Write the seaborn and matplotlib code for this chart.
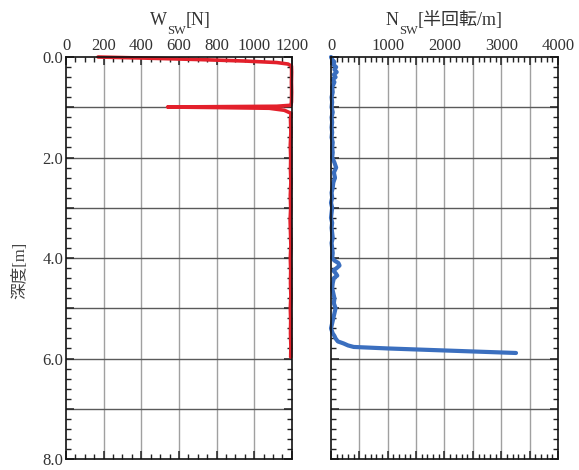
import matplotlib
matplotlib.use("Agg")
import matplotlib.pyplot as plt
import seaborn as sns
import pandas as pd
from matplotlib.ticker import MultipleLocator, FuncFormatter

# Swedish weight sounding: load W_sw [N] and half-turns N_sw per metre
w_depth = [0.00, 0.02, 0.05, 0.08, 0.11, 0.14, 0.18, 0.30, 0.50, 0.70, 0.90,
           0.96, 0.98, 0.995, 1.005, 1.02, 1.06, 1.12, 1.25, 1.50, 1.75, 2.00,
           2.25, 2.50, 2.75, 3.00, 3.25, 3.50, 3.75, 4.00, 4.25, 4.50, 4.75,
           5.00, 5.25, 5.50, 5.75, 5.97]
w_load = [170, 400, 700, 950, 1120, 1180, 1198, 1199, 1198, 1199, 1198,
          1195, 1120, 540, 780, 1080, 1160, 1196, 1193, 1195, 1192, 1194,
          1193, 1195, 1192, 1194, 1191, 1193, 1195, 1192, 1194, 1193, 1195,
          1192, 1194, 1193, 1195, 1194]

n_depth = [0.00, 0.05, 0.10, 0.15, 0.20, 0.25, 0.30, 0.35, 0.40, 0.45, 0.50,
           0.60, 0.70, 0.80, 0.90, 1.00, 1.10, 1.20, 1.30, 1.40, 1.50, 1.60,
           1.70, 1.80, 1.90, 2.00, 2.10, 2.20, 2.30, 2.40, 2.50, 2.60, 2.70,
           2.80, 2.90, 3.00, 3.10, 3.20, 3.30, 3.40, 3.50, 3.60, 3.70, 3.80,
           3.90, 4.00, 4.05, 4.10, 4.15, 4.20, 4.25, 4.30, 4.35, 4.40, 4.50,
           4.60, 4.70, 4.80, 4.90, 5.00, 5.10, 5.20, 5.30, 5.40, 5.50, 5.55,
           5.60, 5.66, 5.70, 5.74, 5.77, 5.80, 5.82, 5.86, 5.89]
n_turns = [0, 20, 60, 40, 90, 60, 100, 50, 80, 30, 60,
           20, 30, 10, 20, 10, 30, 10, 20, 10, 20, 10,
           30, 20, 30, 20, 60, 90, 50, 70, 40, 30, 10,
           20, 0, 20, 10, 0, 20, 10, 20, 30, 10, 20,
           30, 20, 60, 130, 150, 100, 40, 80, 110, 50, 30,
           20, 40, 60, 50, 80, 60, 40, 20, 0, 30, 60,
           80, 120, 220, 300, 400, 1000, 1500, 2500, 3260]

w_ticks = [0, 200, 400, 600, 800, 1000, 1200]
n_ticks = [0, 1000, 2000, 3000, 4000]
depth_labels = [0.0, 2.0, 4.0, 6.0, 8.0]

sns.set_theme(style="ticks")
plt.rcParams["font.family"] = ["Liberation Serif", "Noto Sans CJK JP"]

fig = plt.figure(figsize=(5.79, 4.70), dpi=100)
ax1 = fig.add_axes([0.114, 0.0234, 0.390, 0.8553])
ax2 = fig.add_axes([0.5717, 0.0234, 0.392, 0.8553])

df_w = pd.DataFrame({"depth": w_depth, "load": w_load})
df_n = pd.DataFrame({"depth": n_depth, "turns": n_turns})

sns.lineplot(data=df_w, x="load", y="depth", sort=False, estimator=None,
             orient="y", color="#e3202b", linewidth=2.6, ax=ax1, clip_on=False)
sns.lineplot(data=df_n, x="turns", y="depth", sort=False, estimator=None,
             orient="y", color="#3b6fbf", linewidth=3.0, ax=ax2, clip_on=False)


def style_axis(ax, xmax, xgrid, xminor, labels):
    ax.set_xlim(0, xmax)
    ax.set_ylim(8, 0)
    ax.xaxis.set_major_locator(MultipleLocator(xgrid))
    ax.xaxis.set_minor_locator(MultipleLocator(xminor))
    ax.yaxis.set_major_locator(MultipleLocator(1.0))
    ax.yaxis.set_minor_locator(MultipleLocator(0.2))
    ax.xaxis.set_major_formatter(
        FuncFormatter(lambda v, p: f"{int(round(v))}" if round(v) in labels else ""))
    ax.yaxis.set_major_formatter(
        FuncFormatter(lambda v, p: f"{v:.1f}" if round(v, 1) in depth_labels else ""))
    ax.xaxis.tick_top()
    ax.tick_params(which="both", direction="in", top=True, bottom=True,
                   left=True, right=True, labeltop=True, labelbottom=False,
                   colors="#222", labelcolor="#333", labelsize=12, pad=2)
    ax.tick_params(which="major", length=6, width=1.1)
    ax.tick_params(which="minor", length=3.5, width=1.0)
    ax.grid(False)
    for v in range(xgrid, xmax, xgrid):
        ax.axvline(v, color="#a0a0a0", linewidth=1.0, zorder=0)
    for d in range(1, 8):
        ax.axhline(d, color="#5a5a5a", linewidth=1.0, zorder=0)
    for s in ax.spines.values():
        s.set_color("#111")
        s.set_linewidth(1.2)
    ax.set_xlabel("")
    ax.set_ylabel("")


style_axis(ax1, 1200, 200, 50, w_ticks)
style_axis(ax2, 4000, 500, 100, n_ticks)
ax2.tick_params(labelleft=False)

ax1.set_ylabel("深度[m]", color="#444", fontsize=12)
ax1.yaxis.set_label_coords(-0.165, 0.47)


def top_label(ax, xfrac, main, sub, rest):
    t1 = ax.annotate(main, xy=(xfrac, 1.0), xycoords="axes fraction",
                     xytext=(0, 20), textcoords="offset points",
                     ha="left", va="bottom", fontsize=13, color="#333")
    t2 = ax.annotate(sub, xy=(1, 0), xycoords=t1, xytext=(0, -1),
                     textcoords="offset points", ha="left", va="center",
                     fontsize=9, color="#333")
    ax.annotate(rest, xy=(1, 0), xycoords=(t2, t1), ha="left", va="bottom",
                fontsize=13, color="#333")


top_label(ax1, 0.372, "W", "SW", "[N]")
top_label(ax2, 0.242, "N", "SW", "[半回転/m]")

fig.savefig("out.png", dpi=100)
